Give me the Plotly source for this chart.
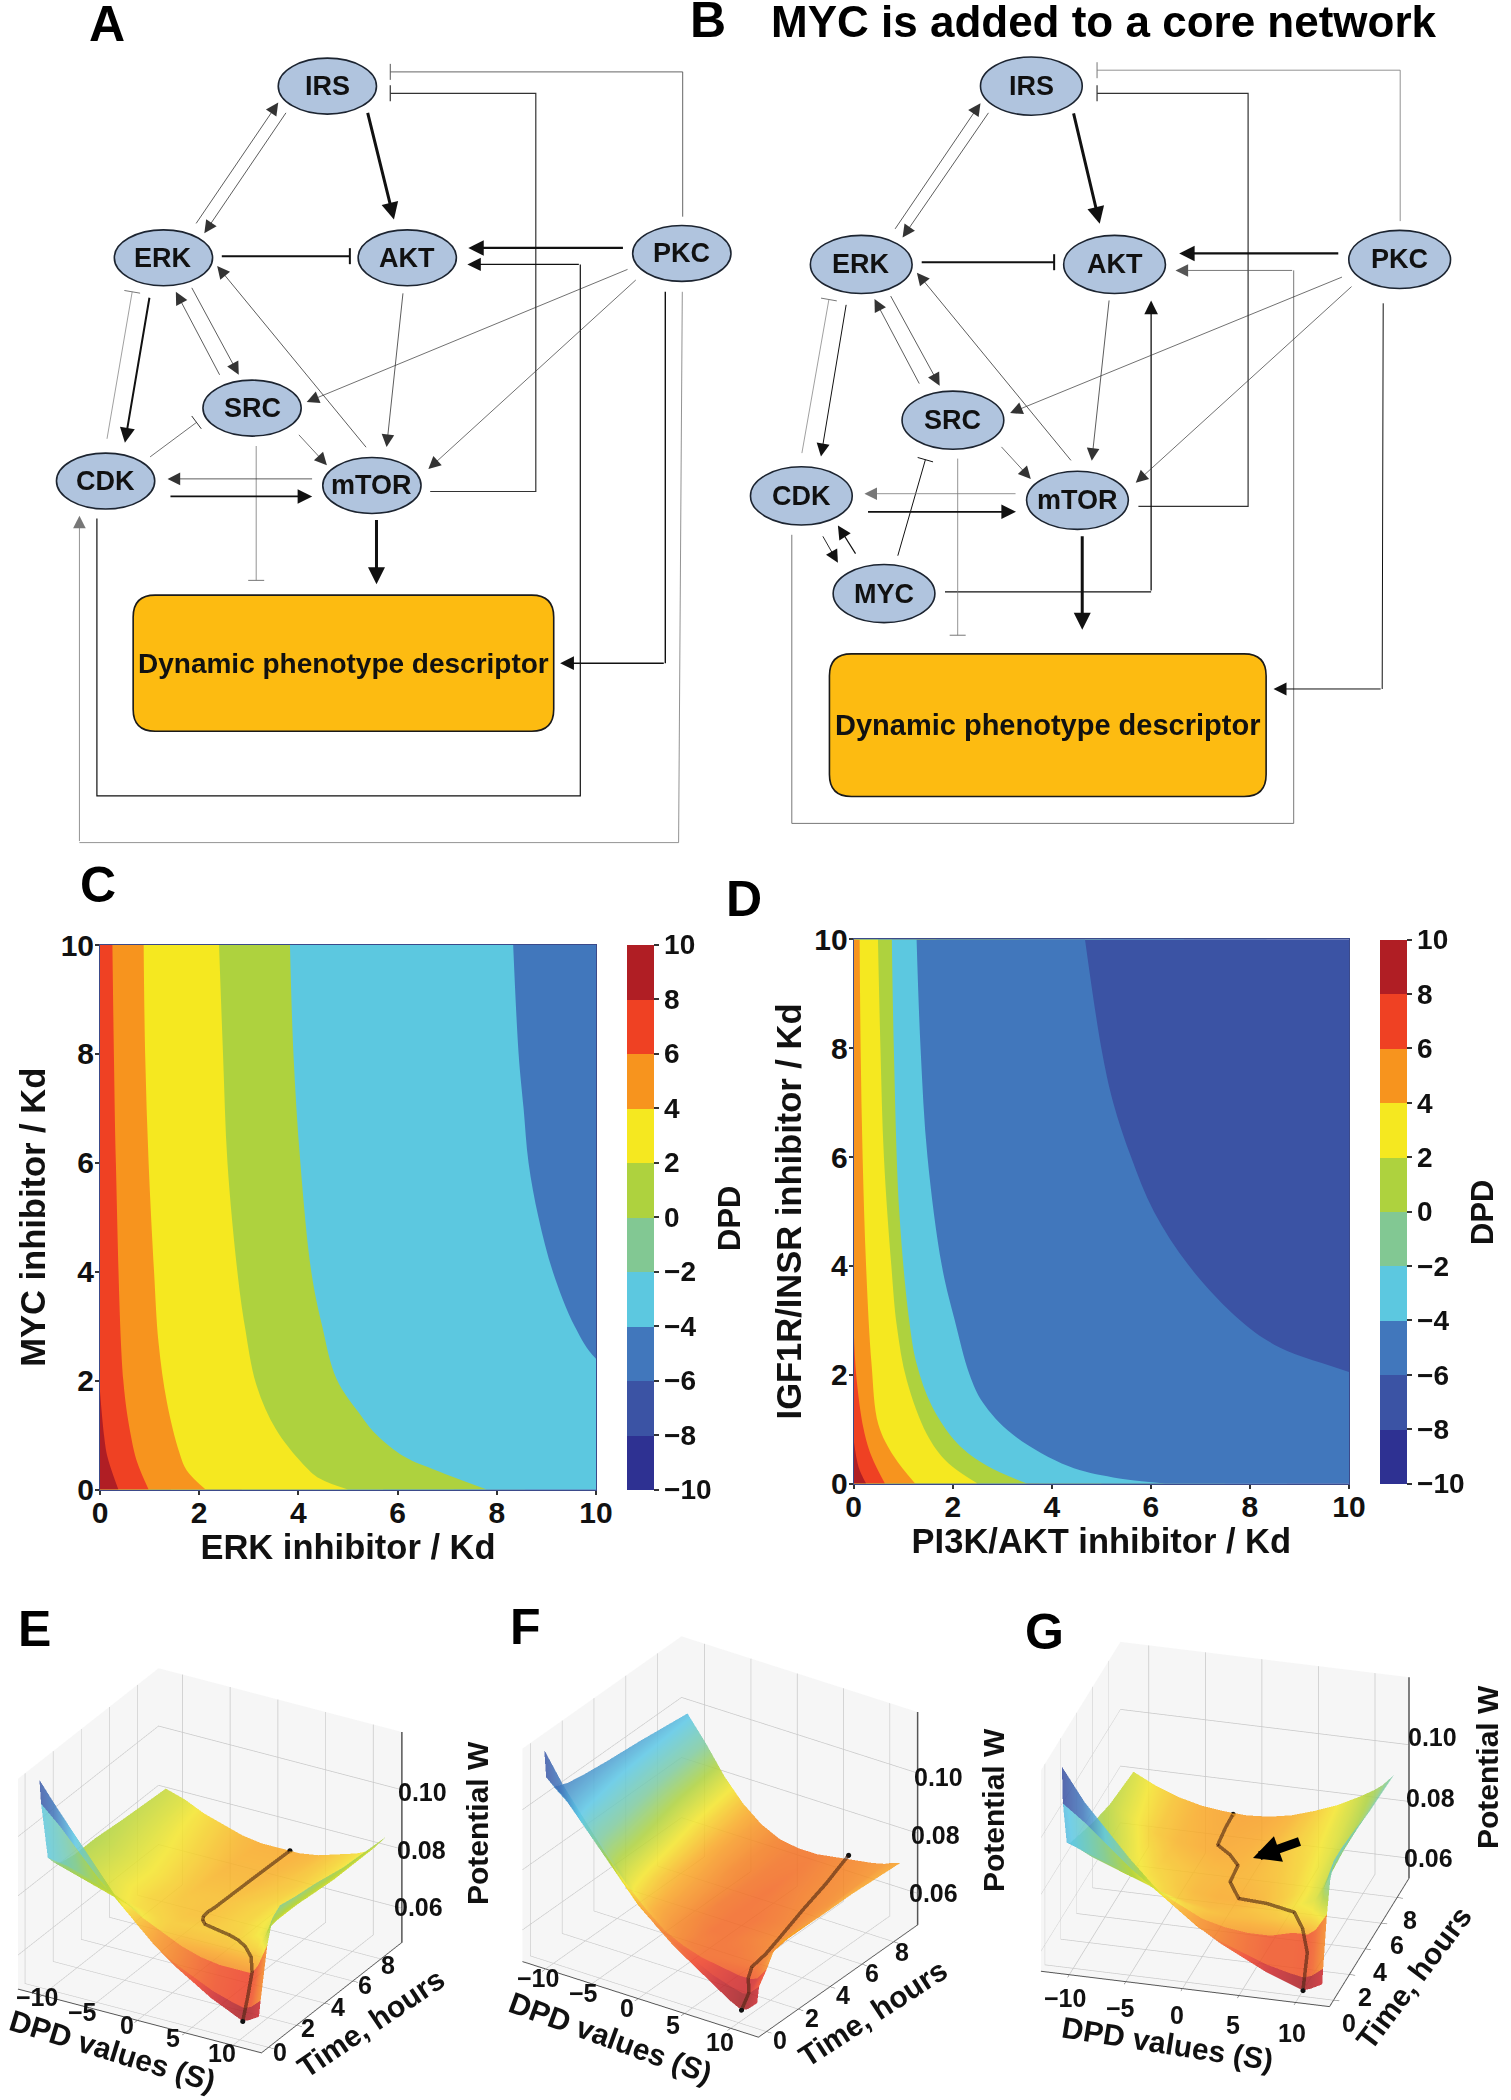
import numpy as np
import plotly.graph_objects as go

FONT = "Liberation Sans"
W_PX, H_PX = 1511, 2100

# ---------- network A (read in crop coordinates) ----------
A_SCALE = (2.178, 1.823, 0, 0)
B_SCALE = (1.887, 1.823, 680, 0)
A_NODES = {"IRS": (713, 157), "ERK": (356, 470), "AKT": (887, 470), "PKC": (1485, 462),
           "SRC": (549, 744), "CDK": (230, 877), "mTOR": (810, 885)}
A_NODE_R = (107, 51)
A_BOX = (290, 1085, 1206, 1333)
DK, MD, LT = "#111111", "#333333", "#777777"
A_EDGES = [
    ([(425, 410), (606, 187)], 0.8, MD, "a"), ([(625, 203), (445, 425)], 0.8, MD, "a"),
    ([(800, 203), (858, 400)], 3, DK, "a"), ([(483, 467), (762, 467)], 2, DK, "t"),
    ([(1360, 452), (1020, 452)], 2.2, DK, "a"),
    ([(937, 896), (1167, 896), (1167, 170), (850, 170)], 1.2, MD, "t"),
    ([(1487, 395), (1487, 131), (850, 131)], 0.9, "#555555", "t"),
    ([(211, 945), (211, 1451), (1264, 1451), (1264, 482), (1018, 482)], 1.2, DK, "a"),
    ([(1486, 532), (1478, 1536), (173, 1536), (173, 940)], 0.8, LT, "a"),
    ([(1449, 532), (1449, 1209), (1220, 1209)], 1.4, DK, "a"),
    ([(1370, 490), (668, 733)], 0.7, MD, "a"), ([(1388, 508), (933, 855)], 0.7, MD, "a"),
    ([(800, 818), (473, 485)], 0.8, MD, "a"), ([(878, 532), (842, 815)], 0.8, MD, "a"),
    ([(416, 522), (520, 683)], 0.8, MD, "a"), ([(480, 686), (383, 532)], 0.8, MD, "a"),
    ([(326, 540), (272, 807)], 2, DK, "a"), ([(233, 800), (288, 532)], 0.7, LT, "t"),
    ([(327, 833), (428, 770)], 0.7, MD, "t"), ([(648, 790), (712, 848)], 0.7, MD, "a"),
    ([(683, 873), (365, 873)], 0.8, MD, "a"), ([(368, 905), (680, 905)], 1.8, DK, "a"),
    ([(558, 813), (558, 1058)], 0.8, LT, "t"), ([(820, 945), (820, 1065)], 3, DK, "a"),
]
# ---------- network B ----------
B_NODES = {"IRS": (663, 157), "ERK": (342, 482), "AKT": (820, 482), "PKC": (1358, 473),
           "SRC": (515, 766), "CDK": (229, 904), "mTOR": (750, 912), "MYC": (385, 1082)}
B_NODE_R = (96, 53)
B_BOX = (282, 1192, 1106, 1452)
B_EDGES = [
    ([(404, 420), (567, 188)], 0.8, MD, "a"), ([(584, 203), (420, 433)], 0.8, MD, "a"),
    ([(742, 204), (792, 408)], 3, DK, "a"), ([(456, 478), (706, 478)], 2, DK, "t"),
    ([(1245, 462), (942, 462)], 2.2, DK, "a"),
    ([(865, 923), (1072, 923), (1072, 170), (787, 170)], 1.2, MD, "t"),
    ([(1359, 403), (1359, 128), (787, 128)], 0.8, LT, "t"),
    ([(211, 975), (211, 1501), (1158, 1501), (1158, 493), (935, 493)], 0.8, "#555555", "a"),
    ([(500, 1079), (889, 1079), (889, 548)], 1.3, DK, "a"),
    ([(1327, 553), (1325, 1256), (1120, 1256)], 1, DK, "a"),
    ([(1252, 504), (623, 753)], 0.7, MD, "a"), ([(1270, 520), (860, 880)], 0.7, MD, "a"),
    ([(740, 842), (447, 497)], 0.8, MD, "a"), ([(810, 545), (777, 840)], 0.8, MD, "a"),
    ([(396, 537), (490, 703)], 0.8, MD, "a"), ([(453, 702), (367, 545)], 0.8, MD, "a"),
    ([(314, 553), (266, 832)], 1, DK, "a"), ([(230, 826), (281, 546)], 0.7, LT, "t"),
    ([(411, 1013), (463, 838)], 1, DK, "t"), ([(604, 812), (662, 873)], 0.7, MD, "a"),
    ([(636, 900), (348, 900)], 0.8, LT, "a"), ([(352, 933), (634, 933)], 1.8, DK, "a"),
    ([(524, 836), (524, 1158)], 0.8, LT, "t"), ([(759, 975), (759, 1148)], 3, DK, "a"),
    ([(268, 975), (298, 1026)], 0.9, DK, "a"), ([(333, 1012), (298, 958)], 1.2, DK, "a"),
]
NODE_FILL = "#b0c4de"
BOX_FILL = "#fdbb11"

# ---------- contour colours ----------
LEVELS = [-10, -8, -6, -4, -2, 0, 2, 4, 6, 8, 10]
BAND_COL = ["#2e3192", "#3b53a4", "#4177bc", "#5cc8e0", "#82c893", "#aed23e",
            "#f5e820", "#f7941e", "#ef4123", "#b01e24"]

# ---------- panel C band boundaries (x at each y) ----------
C_CORNERS = [[10, -4], [6, -6]]
C_BLUE_X = [12, 11, 10, 9.57, 9.13, 8.84, 8.64, 8.54, 8.44, 8.33]
C_BLUE_Y = [0, 1.75, 2.4, 3, 4, 5, 6, 7, 8, 10]
C_GREEN_X = [7.8, 6.78, 6.14, 5.56, 5.26, 4.77, 4.48, 4.26, 4.04, 3.9, 3.83]
C_GREEN_Y = [0, 0.35, 0.6, 1.02, 1.36, 2.03, 3, 4, 6, 8, 10]
C_YELLOW_X = [5.0, 4.43, 4.09, 3.55, 3.16, 2.92, 2.77, 2.57, 2.48, 2.4]
C_YELLOW_Y = [0, 0.2, 0.47, 1.1, 1.9, 3, 4, 6, 8, 10]
C_ORANGE_X = [2.13, 1.75, 1.6, 1.35, 1.18, 1.09, 0.98, 0.91, 0.88]
C_ORANGE_Y = [0, 0.35, 0.68, 1.6, 2.7, 4, 6, 8, 10]
C_RED_X = [0.98, 0.75, 0.62, 0.47, 0.32, 0.28, 0.25]
C_RED_Y = [0, 0.5, 1, 2, 6, 8, 10]
C_DARK_X = [0.37, 0.15, 0.08, 0.0]
C_DARK_Y = [0, 0.6, 1.0, 1.8]

# ---------- panel D band boundaries ----------
D_CORNERS = [[10, -6], [4, -8]]
D_BLUE_X = [13, 11.5, 10, 8.6, 7.8, 6.77, 6.06, 5.6, 5.24, 5.0, 4.67]
D_BLUE_Y = [0, 1.55, 2.05, 2.5, 3, 4, 5, 6, 7, 8, 10]
D_CYAN_X = [6.3, 5.24, 4.33, 3.2, 2.6, 2.34, 2.04, 1.78, 1.49, 1.35, 1.27]
D_CYAN_Y = [0, 0.11, 0.32, 0.91, 1.5, 2, 3, 4, 6, 8, 10]
D_GREEN_X = [3.5, 2.7, 2.09, 1.58, 1.27, 1.12, 0.92, 0.81, 0.77]
D_GREEN_Y = [0, 0.32, 0.74, 1.42, 2.2, 3, 5, 8, 10]
D_YELLOW_X = [2.5, 1.88, 1.48, 1.07, 0.87, 0.76, 0.61, 0.54, 0.49]
D_YELLOW_Y = [0, 0.4, 0.9, 1.9, 2.9, 4, 6, 8, 10]
D_ORANGE_X = [1.24, 0.81, 0.5, 0.36, 0.25, 0.18, 0.14, 0.12]
D_ORANGE_Y = [0, 0.5, 1.08, 2.2, 4, 6, 8, 10]
D_RED_X = [0.63, 0.36, 0.2, 0.05, 0.0]
D_RED_Y = [0, 0.5, 1, 2, 2.85]
D_DARK_X = [0.25, 0.1, 0.0]
D_DARK_Y = [0, 0.3, 0.8]

# ---------- 3D surfaces ----------
S_COLS = [-11, -9, -7, -5, -3, -1, 1, 3, 5, 7, 9, 10.3, 11, 12]
T_ROWS = [0, 0.12, 0.6, 1, 1.5, 2.5, 4, 6, 9]
E_W = [
    [.1185, .110, .102, .094, .086, .079, .073, .068, .064, .060, .057, .055, .056, .058],
    [.110, .104, .097, .090, .084, .078, .072, .068, .065, .062, .060, .059, .060, .063],
    [.090, .089, .087, .085, .082, .078, .075, .072, .070, .069, .069, .069, .072, .080],
    [.087, .085, .083, .081, .079, .077, .075, .074, .074, .074, .075, .076, .079, .088],
    [.085, .083, .081, .079, .077, .076, .075, .075, .075, .075, .077, .079, .082, .090],
    [.084, .082, .080, .078, .076, .075, .074, .074, .075, .076, .078, .080, .083, .089],
    [.084, .082, .080, .078, .076, .074, .074, .074, .075, .076, .078, .080, .082, .088],
    [.083, .081, .079, .077, .075, .073, .073, .073, .074, .075, .077, .079, .081, .086],
    [.082, .080, .077, .075, .073, .072, .072, .072, .073, .075, .077, .079, .081, .085],
]
E_PATH_S = [10.3, 10.4, 10.4, 10.0, 9.1, 8.0, 6.7, 5.0, 3.4, 2.8, 2.5, 2.4, 2.5, 2.3, 2.0]
E_PATH_T = [0, 0.3, 0.6, 0.8, 1.0, 1.25, 1.5, 1.75, 2.0, 2.25, 2.5, 2.9, 3.3, 6, 9]
E_PATH_W = [.055, .0625, .0695, .0735, .0755, .0758, .0755, .075, .0745, .0745, .0745, .0745, .0745, .0735, .072]
F_W = [
    [.1195, .110, .102, .094, .086, .079, .073, .068, .064, .060, .056, .054, .055, .058],
    [.110, .105, .098, .091, .084, .077, .072, .068, .065, .062, .060, .059, .060, .063],
    [.105, .100, .094, .087, .080, .074, .069, .066, .064, .063, .062, .062, .063, .067],
    [.104, .098, .091, .084, .078, .072, .068, .065, .064, .064, .064, .064, .066, .071],
    [.103, .097, .090, .083, .077, .071, .067, .065, .064, .064, .065, .066, .068, .073],
    [.102, .096, .089, .082, .075, .070, .066, .064, .064, .065, .066, .067, .069, .073],
    [.101, .094, .087, .080, .073, .069, .065, .064, .064, .065, .066, .068, .069, .072],
    [.100, .092, .084, .077, .071, .067, .065, .064, .065, .066, .067, .068, .070, .072],
    [.098, .090, .081, .074, .069, .066, .065, .065, .066, .067, .068, .069, .070, .071],
]
F_PATH_S = [10.3, 10.6, 10.0, 9.7, 10.0, 9.3, 8.4, 7.4, 6.4]
F_PATH_T = [0, 0.3, 0.6, 1.0, 1.7, 3, 5, 7, 9]
F_PATH_W = [.054, .059, .062, .064, .066, .066, .067, .067, .068]
G_W = [
    [.1235, .112, .103, .094, .086, .079, .073, .068, .064, .060, .057, .055, .056, .058],
    [.110, .104, .097, .090, .084, .078, .072, .068, .065, .062, .060, .059, .060, .063],
    [.094, .091, .088, .085, .081, .077, .073, .071, .070, .070, .072, .072, .074, .080],
    [.092, .088, .085, .082, .079, .076, .074, .073, .073, .074, .076, .077, .080, .090],
    [.091, .086, .082, .079, .076, .074, .073, .073, .074, .075, .078, .080, .084, .095],
    [.089, .084, .080, .077, .075, .073, .072, .072, .073, .075, .078, .081, .085, .095],
    [.086, .082, .078, .075, .074, .073, .0725, .073, .074, .076, .079, .082, .086, .094],
    [.083, .079, .075, .073, .072, .0715, .072, .073, .075, .077, .080, .083, .086, .092],
    [.081, .077, .074, .072, .071, .0705, .071, .0725, .075, .078, .082, .085, .087, .091],
]
G_PATH_S = [10.3, 10.4, 9.7, 8.7, 5.7, 2.8, 1.4, 1.4, 0.0, -1.8, -2.0, -2.2]
G_PATH_T = [0, 0.4, 0.8, 1.2, 2.0, 2.6, 3.5, 4.5, 5.5, 6.5, 7.8, 9]
G_PATH_W = [.055, .0666, .073, .0764, .0744, .072, .0731, .0744, .0729, .071, .0713, .0703]

S_TICKS = [-10, -5, 0, 5, 10]
T_TICKS = [0, 2, 4, 6, 8]
W_STOPS = [(.050, "#8f1a1f"), (.056, "#c9252b"), (.060, "#ee3f26"), (.066, "#f47a20"),
           (.072, "#f9a825"), (.078, "#f5e62a"), (.084, "#aed23e"), (.090, "#7fcba0"),
           (.097, "#5cc8e6"), (.105, "#4177bc"), (.112, "#3b53a4"), (.120, "#2e3192")]
FACET_SHIFT = 0.004

CAM_DIST = 3.2
PANELS_3D = [
    dict(name="scene", W=E_W, path=(E_PATH_S, E_PATH_T, E_PATH_W), box=(0, 1370, 420, 2100),
         view=(.4455, -.772, .454), cz=0.386, scale=.77, az=.84, zr=(.0485, .1195)),
    dict(name="scene2", W=F_W, path=(F_PATH_S, F_PATH_T, F_PATH_W), box=(520, 1370, 920, 2100),
         view=(.492, -.73, .476), cz=0.317, scale=.78, az=.85, zr=(.0495, .1203)),
    dict(name="scene3", W=G_W, path=(G_PATH_S, G_PATH_T, G_PATH_W), box=(1026, 1370, 1424, 2100),
         view=(.238, -.864, .445), cz=0.273, scale=.82, az=.75, zr=(.0529, .1238)),
]
LETTERS = [("A", 107, 24), ("B", 708, 20), ("C", 98, 885), ("D", 744, 899),
           ("E", 34, 1629), ("F", 525, 1627), ("G", 1044, 1632)]
AXIS_TITLES_3D = [
    ("DPD values (S)", 112, 2050, 17), ("Time, hours", 370, 2023, -34), ("Potential W", 477, 1823, -90),
    ("DPD values (S)", 610, 2037, 20), ("Time, hours", 872, 2013, -33), ("Potential W", 993, 1810, -90),
    ("DPD values (S)", 1167, 2043, 9), ("Time, hours", 1413, 1978, -53), ("Potential W", 1487, 1767, -90),
]
TICK_LABELS_3D = [
    ("\u221210", 37, 1997), ("\u22125", 82, 2012), ("0", 127, 2025), ("5", 173, 2038), ("10", 222, 2053),
    ("0", 280, 2052), ("2", 308, 2028), ("4", 338, 2007), ("6", 365, 1985), ("8", 388, 1965),
    ("0.10", 422, 1792), ("0.08", 421, 1850), ("0.06", 418, 1907),
    ("\u221210", 538, 1978), ("\u22125", 583, 1993), ("0", 627, 2008), ("5", 673, 2025), ("10", 720, 2042),
    ("0", 780, 2040), ("2", 812, 2018), ("4", 843, 1995), ("6", 872, 1973), ("8", 902, 1952),
    ("0.10", 938, 1777), ("0.08", 935, 1835), ("0.06", 933, 1893),
    ("\u221210", 1065, 1998), ("\u22125", 1120, 2008), ("0", 1177, 2015), ("5", 1233, 2025), ("10", 1292, 2033),
    ("0", 1349, 2023), ("2", 1365, 1997), ("4", 1380, 1972), ("6", 1397, 1945), ("8", 1410, 1920),
    ("0.10", 1432, 1737), ("0.08", 1430, 1798), ("0.06", 1428, 1858),
]
G_ARROW = ((1301, 1841), (1253, 1858))


def bold(size, color="#111111"):
    return dict(family=FONT, size=size, color=color, weight="bold")


shapes, annos = [], []


def to_px(p, sc):
    return p[0] / sc[0] + sc[2], p[1] / sc[1] + sc[3]


def draw_network(nodes, radius, box, edges, sc, label_size, box_size):
    for pts, w, col, kind in edges:
        px = [to_px(p, sc) for p in pts]
        stop = len(px) - 1 if kind == "a" else len(px)
        if stop >= 2:
            path = "M" + " L".join(f"{x:.1f},{y:.1f}" for x, y in px[:stop])
            shapes.append(dict(type="path", path=path, xref="x", yref="y", line=dict(color=col, width=w)))
        (x0, y0), (x1, y1) = px[-2], px[-1]
        if kind == "a":
            annos.append(dict(x=x1, y=y1, ax=x0, ay=y0, xref="x", yref="y", axref="x", ayref="y", text="",
                              showarrow=True, arrowhead=2, arrowwidth=w, arrowsize=(11 + 2 * w) / (5 * w),
                              arrowcolor=col, standoff=0, startstandoff=0))
        else:
            L = np.hypot(x1 - x0, y1 - y0)
            nx, ny = -(y1 - y0) / L, (x1 - x0) / L
            shapes.append(dict(type="line", xref="x", yref="y", x0=x1 - 8 * nx, y0=y1 - 8 * ny,
                               x1=x1 + 8 * nx, y1=y1 + 8 * ny, line=dict(color=col, width=max(w, 1))))
    for name, c in nodes.items():
        cx, cy = to_px(c, sc)
        rx, ry = radius[0] / sc[0], radius[1] / sc[1]
        shapes.append(dict(type="circle", xref="x", yref="y", x0=cx - rx, x1=cx + rx, y0=cy - ry, y1=cy + ry,
                           fillcolor=NODE_FILL, line=dict(color="#1c2430", width=1.6)))
        annos.append(dict(x=cx, y=cy, xref="x", yref="y", text=name, showarrow=False, font=bold(label_size)))
    x0, y0 = to_px(box[:2], sc)
    x1, y1 = to_px(box[2:], sc)
    r = 22
    path = (f"M{x0+r},{y0} L{x1-r},{y0} Q{x1},{y0} {x1},{y0+r} L{x1},{y1-r} Q{x1},{y1} {x1-r},{y1} "
            f"L{x0+r},{y1} Q{x0},{y1} {x0},{y1-r} L{x0},{y0+r} Q{x0},{y0} {x0+r},{y0} Z")
    shapes.append(dict(type="path", path=path, xref="x", yref="y", fillcolor=BOX_FILL,
                       line=dict(color="#1a1a1a", width=1.6)))
    annos.append(dict(x=(x0 + x1) / 2, y=(y0 + y1) / 2, xref="x", yref="y", text="Dynamic phenotype descriptor",
                      showarrow=False, font=bold(box_size)))


draw_network(A_NODES, A_NODE_R, A_BOX, A_EDGES, A_SCALE, 27, 28)
draw_network(B_NODES, B_NODE_R, B_BOX, B_EDGES, B_SCALE, 27, 29)

annos.append(dict(x=769, y=21, xref="x", yref="y", xanchor="left", text="MYC is added to a core network",
                  showarrow=False, font=bold(44, "#000000")))
for t, x, y in LETTERS:
    annos.append(dict(x=x, y=y, xref="x", yref="y", text=t, showarrow=False, font=bold(50, "#000000")))
for t, x, y, ang in AXIS_TITLES_3D:
    annos.append(dict(x=x, y=y, xref="x", yref="y", text=t, showarrow=False, textangle=ang, font=bold(30)))
for t, x, y in TICK_LABELS_3D:
    annos.append(dict(x=x, y=y, xref="x", yref="y", text=t, showarrow=False, font=bold(25)))
annos.append(dict(x=G_ARROW[1][0], y=G_ARROW[1][1], ax=G_ARROW[0][0], ay=G_ARROW[0][1], xref="x", yref="y",
                  axref="x", ayref="y", text="", showarrow=True, arrowhead=2, arrowwidth=9, arrowsize=0.6,
                  arrowcolor="#000000", standoff=0, startstandoff=0))

fig = go.Figure()
fig.add_trace(go.Scatter(x=[0, W_PX], y=[0, H_PX], mode="markers", marker=dict(opacity=0), hoverinfo="skip",
                         showlegend=False, xaxis="x", yaxis="y"))

colorscale = []
for i, c in enumerate(BAND_COL):
    colorscale += [[i / 10, c], [(i + 1) / 10, c]]


def contour_panel(xa, ya, corners, base_col, bands, cbx, px_top, px_bot):
    fig.add_trace(go.Contour(
        x=[0, 10], y=[0, 10], z=corners, xaxis=xa, yaxis=ya, zmin=-10, zmax=10, zauto=False,
        autocontour=False, contours=dict(start=-10, end=10, size=2, coloring="fill", showlines=False),
        line=dict(width=0), colorscale=colorscale, hoverinfo="skip",
        colorbar=dict(x=cbx / W_PX, xanchor="left", xpad=0, ypad=0, thickness=27, thicknessmode="pixels",
                      len=px_bot - px_top, lenmode="pixels", y=1 - px_bot / H_PX, yanchor="bottom",
                      tickvals=LEVELS, ticks="outside", ticklen=5, tickwidth=1.5, tickcolor="#333",
                      outlinewidth=0, tickfont=bold(28))))
    fig.add_trace(go.Scatter(x=[0, 10, 10, 0], y=[0, 0, 10, 10], fill="toself", mode="none", fillcolor=base_col,
                             xaxis=xa, yaxis=ya, hoverinfo="skip", showlegend=False))
    for xs, ys, col in bands:
        fig.add_trace(go.Scatter(x=list(xs), y=list(ys), fill="tozerox", mode="lines", fillcolor=col,
                                 line=dict(width=0, shape="spline", smoothing=1.0, color=col),
                                 xaxis=xa, yaxis=ya, hoverinfo="skip", showlegend=False))


contour_panel("x2", "y2", C_CORNERS, BAND_COL[2], [
    (C_BLUE_X, C_BLUE_Y, BAND_COL[3]), (C_GREEN_X, C_GREEN_Y, BAND_COL[5]), (C_YELLOW_X, C_YELLOW_Y, BAND_COL[6]),
    (C_ORANGE_X, C_ORANGE_Y, BAND_COL[7]), (C_RED_X, C_RED_Y, BAND_COL[8]), (C_DARK_X, C_DARK_Y, BAND_COL[9])],
    627, 945, 1489.5)
contour_panel("x3", "y3", D_CORNERS, BAND_COL[1], [
    (D_BLUE_X, D_BLUE_Y, BAND_COL[2]), (D_CYAN_X, D_CYAN_Y, BAND_COL[3]), (D_GREEN_X, D_GREEN_Y, BAND_COL[5]),
    (D_YELLOW_X, D_YELLOW_Y, BAND_COL[6]), (D_ORANGE_X, D_ORANGE_Y, BAND_COL[7]), (D_RED_X, D_RED_Y, BAND_COL[8]),
    (D_DARK_X, D_DARK_Y, BAND_COL[9])],
    1380, 939.4, 1483.5)

cmin, cmax = W_STOPS[0][0], W_STOPS[-1][0]
surf_scale = [[(w - cmin) / (cmax - cmin), c] for w, c in W_STOPS]
EPS = 1e-3
N_FACET = 2  # the first rows are single flat facets in the picture
for p in PANELS_3D:
    W = np.array(p["W"])
    ys, zs, cs = [], [], []
    for i in range(N_FACET):
        mean_row = (W[i] + W[i + 1]) / 2 - FACET_SHIFT
        ys += [T_ROWS[i] + EPS, T_ROWS[i + 1] - EPS]
        zs += [W[i], W[i + 1]]
        cs += [mean_row, mean_row]
    for i in range(N_FACET, len(T_ROWS)):
        ys.append(T_ROWS[i] + EPS)
        zs.append(W[i])
        cs.append(W[i])
    fig.add_trace(go.Surface(x=S_COLS, y=ys, z=np.array(zs), surfacecolor=np.array(cs), cmin=cmin, cmax=cmax,
                             colorscale=surf_scale, showscale=False, opacity=0.85, scene=p["name"], hoverinfo="skip",
                             lighting=dict(ambient=1, diffuse=0, specular=0, roughness=1, fresnel=0)))
    ps, pt, pw = p["path"]
    fig.add_trace(go.Scatter3d(x=ps, y=pt, z=pw, mode="lines", line=dict(color="#4a2410", width=7), opacity=0.6,
                               scene=p["name"], hoverinfo="skip", showlegend=False))
    fig.add_trace(go.Scatter3d(x=[ps[0], ps[-1]], y=[pt[0], pt[-1]], z=[pw[0], pw[-1]], mode="markers",
                               marker=dict(color="#111111", size=3), scene=p["name"], hoverinfo="skip", showlegend=False))
    fig.add_trace(go.Scatter3d(x=[13, 13], y=[9.5, 9.5], z=list(p["zr"]), mode="lines", line=dict(color="#555555", width=3),
                               scene=p["name"], hoverinfo="skip", showlegend=False))

axis2d = dict(range=[0, 10], tickvals=[0, 2, 4, 6, 8, 10], ticks="outside", ticklen=4, tickwidth=1.5, tickcolor="#333",
              showline=True, mirror=True, linecolor="#3b4a8a", linewidth=1, showgrid=False, zeroline=False,
              tickfont=bold(30))


def ax3d(rng, ticks, is_z=False):
    return dict(range=list(rng), tickvals=ticks, title=dict(text=""), showbackground=True, backgroundcolor="#f6f6f6",
                gridcolor="#c8c8c8", gridwidth=1.5, showline=not is_z, linecolor="#555", linewidth=2, zeroline=False,
                ticks="" if is_z else "outside", ticklen=6, tickcolor="#555", showspikes=False, showticklabels=False)


layout = dict(
    width=W_PX, height=H_PX, margin=dict(l=0, r=0, t=0, b=0, autoexpand=False), paper_bgcolor="white",
    plot_bgcolor="rgba(0,0,0,0)",
    showlegend=False, shapes=shapes, annotations=annos, font=dict(family=FONT),
    xaxis=dict(domain=[0, 1], range=[0, W_PX], visible=False, fixedrange=True),
    yaxis=dict(domain=[0, 1], range=[H_PX, 0], visible=False, fixedrange=True),
    xaxis2=dict(axis2d, domain=[100 / W_PX, 596 / W_PX], anchor="y2", ticklabelstandoff=-8,
                title=dict(text="ERK inhibitor / Kd", font=bold(34.5), standoff=1)),
    yaxis2=dict(axis2d, domain=[1 - 1489.5 / H_PX, 1 - 945 / H_PX], anchor="x2", ticklabelstandoff=-5,
                title=dict(text="MYC inhibitor / Kd", font=bold(34.5), standoff=4)),
    xaxis3=dict(axis2d, domain=[853.7 / W_PX, 1349 / W_PX], anchor="y3", ticklabelstandoff=-8,
                title=dict(text="PI3K/AKT inhibitor / Kd", font=bold(34.5), standoff=0)),
    yaxis3=dict(axis2d, domain=[1 - 1483.5 / H_PX, 1 - 939.4 / H_PX], anchor="x3", ticklabelstandoff=-5,
                title=dict(text="IGF1R/INSR inhibitor / Kd", font=bold(34.5), standoff=2)),
)
for t, x, y in [("DPD", 729, 1219), ("DPD", 1482, 1213)]:
    layout["annotations"].append(dict(x=x, y=y, xref="x", yref="y", text=t, showarrow=False, textangle=-90, font=bold(31)))
for p in PANELS_3D:
    x0, y0, x1, y1 = p["box"]
    cz = p["cz"]
    v = p["view"]
    s = p["scale"]
    layout[p["name"]] = dict(
        domain=dict(x=[x0 / W_PX, x1 / W_PX], y=[1 - y1 / H_PX, 1 - y0 / H_PX]),
        camera=dict(eye=dict(x=v[0] * CAM_DIST, y=v[1] * CAM_DIST, z=v[2] * CAM_DIST + cz), center=dict(x=0, y=0, z=cz),
                    up=dict(x=0, y=0, z=1), projection=dict(type="orthographic")),
        aspectmode="manual", aspectratio=dict(x=s, y=s, z=p["az"] * s), bgcolor="rgba(0,0,0,0)",
        xaxis=ax3d((-12.5, 13), S_TICKS), yaxis=ax3d((-0.5, 9.5), T_TICKS), zaxis=ax3d(p["zr"], [0.06, 0.08, 0.10], True))
fig.update_layout(**layout)
fig.write_html("out.html", config={"displayModeBar": False}, post_script="document.body.style.margin='0';")
